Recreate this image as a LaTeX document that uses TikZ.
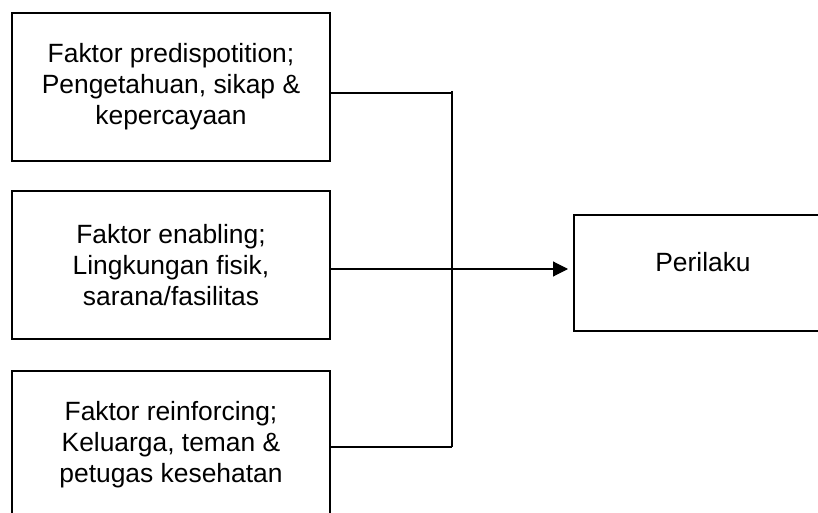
\documentclass[tikz,border=0pt]{standalone}
\usepackage{fontspec}
\setmainfont{Liberation Sans}
\usetikzlibrary{arrows.meta}
\begin{document}
\begin{tikzpicture}[x=1bp,y=-1bp,
  factor/.style={draw=black, line width=2bp, rectangle, align=center,
    minimum width=318bp, minimum height=148bp, inner sep=0pt,
    font=\fontsize{26.4bp}{31bp}\selectfont},
  resultbox/.style={draw=black, line width=2bp, rectangle,
    minimum width=258bp, minimum height=116bp, inner sep=0pt},
  txt/.style={inner sep=0pt, font=\fontsize{26.4bp}{31bp}\selectfont},
  link/.style={draw=black, line width=1.1bp},
  arrowtip/.style={-{Triangle[length=15bp,width=15bp]}}]
  \useasboundingbox (0,0) rectangle (818,513);
  \clip (0,0) rectangle (818,513);
  \fill[white] (0,0) rectangle (818,513);

  % three factor boxes
  \node[factor] (b1) at (171,87)  {Faktor predispotition;\\Pengetahuan, sikap \&\\kepercayaan};
  \node[factor] (b2) at (171,265) {Faktor enabling;\\Lingkungan fisik,\\sarana/fasilitas};
  \node[factor] (b3) at (171,445) {Faktor reinforcing;\\Keluarga, teman \&\\petugas kesehatan};

  % outcome box
  \node[resultbox] (per) at (703,273) {};
  \node[txt] (pertext) at (703,262) {Perilaku};

  % collector line
  \coordinate (j1) at (452,93);
  \coordinate (j2) at (452,269);
  \coordinate (j3) at (452,447);
  \draw[link] (b1.east |- j1) -- (j1);
  \draw[link] ([yshift=2bp]j1) -- (j3);
  \draw[link] (b3.east |- j3) -- (j3);
  \draw[link, arrowtip, shorten >=5bp] (b2.east |- j2) -- (per.west |- j2);
\end{tikzpicture}
\end{document}
